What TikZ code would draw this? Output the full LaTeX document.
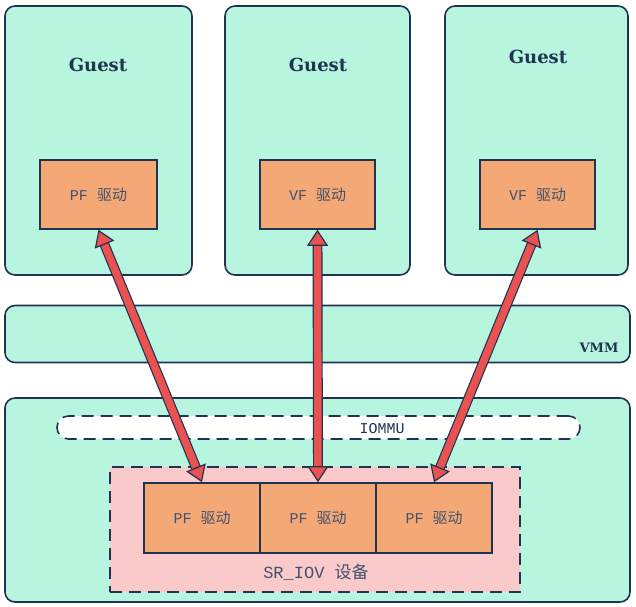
\documentclass[tikz,border=0pt]{standalone}
\usepackage{fontspec}
\setmainfont{DejaVu Serif}
\setmonofont{Liberation Mono}
\newfontfamily\cjk{Noto Sans CJK SC}
\usetikzlibrary{arrows.meta}
\definecolor{mint}{RGB}{184,245,222}
\definecolor{peach}{RGB}{243,168,118}
\definecolor{blush}{RGB}{250,202,202}
\definecolor{ink}{RGB}{32,52,82}
\definecolor{arrowred}{RGB}{233,82,80}
\tikzset{
    panel/.style={draw=ink,line width=1.6pt,fill=mint,rounded corners=10pt,inner sep=0pt},
    driver/.style={draw=ink,line width=1.6pt,fill=peach,minimum height=69pt,inner sep=0pt,font=\ttfamily\fontsize{15}{15}\selectfont,text=ink!85},
    dashedbox/.style={draw=ink,line width=1.6pt,dash pattern=on 12pt off 7pt,inner sep=0pt},
    title/.style={font=\bfseries\fontsize{18}{18}\selectfont,text=ink},
    link/.style={draw=ink,line width=1.2pt,double=arrowred,double distance=7.5pt,{Triangle[length=16pt,width=21pt,fill=arrowred,line width=1.2pt]}-{Triangle[length=16pt,width=21pt,fill=arrowred,line width=1.2pt]}}
}
\newcommand{\drvtext}[1]{#1 {\cjk 驱动}}

\begin{document}
\begin{tikzpicture}[x=1pt,y=-1pt]
  \useasboundingbox (0,0) rectangle (636,606);

  % Guests
  \node[panel,minimum width=187pt,minimum height=269pt] (guestA) at (98.5,140.5) {};
  \node[panel,minimum width=185pt,minimum height=269pt] (guestB) at (317.5,140.5) {};
  \node[panel,minimum width=183pt,minimum height=269pt] (guestC) at (536.5,140.5) {};
  \node[title] (guestAlbl) at (98,65) {Guest};
  \node[title] (guestBlbl) at (318,65) {Guest};
  \node[title] (guestClbl) at (538,57) {Guest};
  \node[driver,minimum width=117pt] (vdrvA) at (98.5,194.5) {\drvtext{PF}};
  \node[driver,minimum width=115pt] (vdrvB) at (317.5,194.5) {\drvtext{VF}};
  \node[driver,minimum width=115pt] (vdrvC) at (537.5,194.5) {\drvtext{VF}};

  % VMM
  \node[panel,minimum width=625pt,minimum height=57pt] (vmm) at (317.5,334) {};
  \node[title,font=\bfseries\fontsize{13}{13}\selectfont] (vmmlbl) at (599,348) {VMM};

  % Host with IOMMU and device
  \node[panel,minimum width=625pt,minimum height=204pt] (host) at (317.5,500) {};
  \node[dashedbox,fill=white,rounded corners=11.5pt,minimum width=523pt,minimum height=23pt] (iommu) at (318.5,427.5) {};
  \node[font=\ttfamily\fontsize{15}{15}\selectfont,text=ink] (iommulbl) at (382,429) {IOMMU};
  \node[dashedbox,fill=blush,minimum width=410pt,minimum height=125pt] (sriov) at (315,529.5) {};
  \node[driver,minimum width=116pt,minimum height=70pt] (pdrvA) at (202,518) {\drvtext{PF}};
  \node[driver,minimum width=116pt,minimum height=70pt] (pdrvB) at (318,518) {\drvtext{PF}};
  \node[driver,minimum width=116pt,minimum height=70pt] (pdrvC) at (434,518) {\drvtext{PF}};
  \node[font=\ttfamily\fontsize{17}{17}\selectfont,text=ink!85] (sriovlbl) at (316,572) {SR\_IOV {\cjk 设备}};

  % Links
  \draw[link] (vdrvA.south) -- (pdrvA.north);
  \draw[link] (vdrvB.south) -- (pdrvB.north);
  \draw[link] (vdrvC.south) -- (pdrvC.north);
\end{tikzpicture}
\end{document}
